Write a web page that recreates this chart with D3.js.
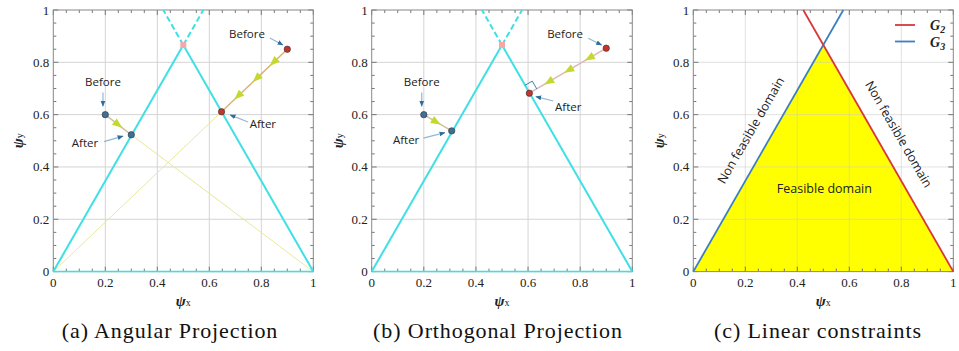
<!DOCTYPE html>
<html>
<head>
<meta charset="utf-8">
<script src="https://d3js.org/d3.v7.min.js"></script>
<style>
body { margin:0; background:#fff; }
svg text { font-family:"Liberation Serif", serif; }
</style>
</head>
<body>
<svg width="959" height="351"></svg>
<script>
// axis ticks
var ticks = [0, 0.2, 0.4, 0.6, 0.8, 1]
var tickLabels = ["0", "0.2", "0.4", "0.6", "0.8", "1"]
var minorTicks = d3.range(0, 21).map(function(i) { return i / 20 })

// constraint lines
var g3Solid = [[0, 0], [0.5, 0.866]]
var g3Dashed = [[0.5, 0.866], [0.577, 1]]
var g2Solid = [[1, 0], [0.5, 0.866]]
var g2Dashed = [[0.5, 0.866], [0.423, 1]]
var vertex = [0.5, 0.866]

// (a) angular projection
var angBluePath = [[0.2, 0.6], [0.3, 0.523]]
var angBlueRay = [[0.3, 0.523], [1, 0]]
var angRedPath = [[0.9, 0.85], [0.647, 0.611]]
var angRedRay = [[0.647, 0.611], [0, 0]]
var angBlueArrows = [0.5]
var angRedArrows = [0.21, 0.47, 0.75]
var angNotes = [
	{text: "Before", at: [0.191, 0.725], from: [0.191, 0.685], to: [0.191, 0.632]},
	{text: "After", at: [0.122, 0.492], from: [0.195, 0.497], to: [0.268, 0.518]},
	{text: "Before", at: [0.745, 0.908], from: [0.833, 0.893], to: [0.883, 0.866]},
	{text: "After", at: [0.806, 0.564], from: [0.749, 0.572], to: [0.68, 0.599]}
]

// (b) orthogonal projection
var ortBluePath = [[0.2, 0.6], [0.307, 0.538]]
var ortRedPath = [[0.9, 0.854], [0.605, 0.682]]
var ortBlueArrows = [0.45]
var ortRedArrows = [0.22, 0.49, 0.75]
var ortNotes = [
	{text: "Before", at: [0.192, 0.726], from: [0.192, 0.685], to: [0.192, 0.632]},
	{text: "After", at: [0.132, 0.503], from: [0.198, 0.51], to: [0.281, 0.531]},
	{text: "Before", at: [0.742, 0.907], from: [0.831, 0.892], to: [0.882, 0.866]},
	{text: "After", at: [0.754, 0.631], from: [0.697, 0.652], to: [0.63, 0.669]}
]

// (c) linear constraints
var feasible = [[0, 0], [0.5, 0.866], [1, 0]]
var g3Line = [[0, 0], [0.577, 1]]
var g2Line = [[0.423, 1], [1, 0]]
var legendNames = ["2", "3"]
var legendColors = ["#d9383a", "#3a7fc1"]
var regionLabels = [
	{text: "Non feasible domain", at: [0.221, 0.54], angle: -60},
	{text: "Non feasible domain", at: [0.79, 0.525], angle: 60},
	{text: "Feasible domain", at: [0.504, 0.318], angle: 0}
]

var captions = ["(a) Angular Projection", "(b) Orthogonal Projection", "(c) Linear constraints"]

var cyan = "#3fe0e4"
var svg = d3.select("svg")

var defs = svg.append("defs")
defs.append("marker")
	.attr("id", "noteArrow")
	.attr("viewBox", "0 0 10 10")
	.attr("refX", 9).attr("refY", 5)
	.attr("markerWidth", 5).attr("markerHeight", 5)
	.attr("orient", "auto")
	.append("path")
	.attr("d", "M0,1L10,5L0,9Z")
	.style("fill", "#2f6d9e")

var panels = [
	{left: 53.3, right: 313.3, ylab: 19, cap: 170},
	{left: 371.7, right: 632.3, ylab: 339, cap: 498},
	{left: 693.3, right: 953.3, ylab: 660, cap: 818}
]
var plotTop = 10, plotBottom = 271.6

function makePanel(p, i) {
	var g = svg.append("g")
	var x = d3.scaleLinear().domain([0, 1]).range([p.left, p.right])
	var y = d3.scaleLinear().domain([0, 1]).range([plotBottom, plotTop])
	var line = d3.line().x(function(d) { return x(d[0]) }).y(function(d) { return y(d[1]) })
	return {g: g, x: x, y: y, line: line}
}

function drawFrame(P, gridColor) {
	var g = P.g, x = P.x, y = P.y
	g.selectAll(".gx").data(ticks.slice(1, -1)).enter().append("line")
		.attr("x1", x).attr("x2", x).attr("y1", plotTop).attr("y2", plotBottom)
		.style("stroke", gridColor).style("stroke-width", 1)
	g.selectAll(".gy").data(ticks.slice(1, -1)).enter().append("line")
		.attr("y1", y).attr("y2", y).attr("x1", x(0)).attr("x2", x(1))
		.style("stroke", gridColor).style("stroke-width", 1)
	// inward ticks on all four sides
	minorTicks.forEach(function(t, k) {
		var len = (k % 4 == 0) ? 5 : 3
		g.append("line").attr("x1", x(t)).attr("x2", x(t)).attr("y1", plotBottom).attr("y2", plotBottom - len).style("stroke", "#777")
		g.append("line").attr("x1", x(t)).attr("x2", x(t)).attr("y1", plotTop).attr("y2", plotTop + len).style("stroke", "#777")
		g.append("line").attr("y1", y(t)).attr("y2", y(t)).attr("x1", x(0)).attr("x2", x(0) + len).style("stroke", "#777")
		g.append("line").attr("y1", y(t)).attr("y2", y(t)).attr("x1", x(1)).attr("x2", x(1) - len).style("stroke", "#777")
	})
	g.append("rect").attr("x", x(0)).attr("y", plotTop).attr("width", x(1) - x(0)).attr("height", plotBottom - plotTop)
		.style("fill", "none").style("stroke", "#888").style("stroke-width", 1)
}

function drawLabels(P, p, i) {
	var g = P.g, x = P.x, y = P.y
	g.selectAll(".tx").data(ticks).enter().append("text")
		.attr("x", x).attr("y", 287)
		.attr("text-anchor", "middle").style("font-size", "13px").style("fill", "#222")
		.text(function(d, k) { return tickLabels[k] })
	g.selectAll(".ty").data(ticks).enter().append("text")
		.attr("x", x(0) - 4).attr("y", function(d) { return y(d) + 4.5 })
		.attr("text-anchor", "end").style("font-size", "13px").style("fill", "#222")
		.text(function(d, k) { return tickLabels[k] })
	var xl = g.append("text").attr("x", (x(0) + x(1)) / 2).attr("y", 306).attr("text-anchor", "middle").style("fill", "#222")
	xl.append("tspan").style("font-size", "15px").style("font-weight", "bold").style("font-style", "italic").text("ψ")
	xl.append("tspan").style("font-size", "10px").text("x")
	var yl = g.append("text").attr("transform", "translate(" + (p.ylab + 4) + "," + ((plotTop + plotBottom) / 2) + ") rotate(-90)")
		.attr("text-anchor", "middle").style("fill", "#222")
	yl.append("tspan").style("font-size", "15px").style("font-weight", "bold").style("font-style", "italic").text("ψ")
	yl.append("tspan").style("font-size", "10px").text("y")
	svg.append("text").attr("x", p.cap).attr("y", 338).attr("text-anchor", "middle")
		.style("font-size", "22px").style("letter-spacing", "0.9px").style("fill", "#111").text(captions[i])
}

function drawConstraints(P) {
	var g = P.g
	;[g3Solid, g2Solid].forEach(function(d) {
		g.append("path").attr("d", P.line(d)).style("stroke", cyan).style("stroke-width", 2).style("fill", "none")
	})
	;[g3Dashed, g2Dashed].forEach(function(d) {
		g.append("path").attr("d", P.line(d)).style("stroke", cyan).style("stroke-width", 2)
			.style("stroke-dasharray", "6,3").style("fill", "none")
	})
	g.append("rect").attr("x", P.x(vertex[0]) - 3).attr("y", P.y(vertex[1]) - 3)
		.attr("width", 6).attr("height", 6).style("fill", "#f5a8aa")
	// bottom edge in cyan
	g.append("line").attr("x1", P.x(0)).attr("x2", P.x(1)).attr("y1", plotBottom).attr("y2", plotBottom)
		.style("stroke", cyan).style("stroke-width", 1.5)
}

function drawMove(P, path, color, arrows, dotColor) {
	var g = P.g
	g.append("path").attr("d", P.line(path)).style("stroke", color).style("stroke-width", 1.5).style("fill", "none")
	var x0 = P.x(path[0][0]), y0 = P.y(path[0][1]), x1 = P.x(path[1][0]), y1 = P.y(path[1][1])
	var ang = Math.atan2(y1 - y0, x1 - x0) * 180 / Math.PI
	arrows.forEach(function(t) {
		g.append("path").attr("d", "M5,0L-5,-4L-5,4Z")
			.attr("transform", "translate(" + (x0 + t * (x1 - x0)) + "," + (y0 + t * (y1 - y0)) + ") rotate(" + ang + ")")
			.style("fill", "#c4d831")
	})
	path.forEach(function(d) {
		g.append("circle").attr("cx", P.x(d[0])).attr("cy", P.y(d[1])).attr("r", 3.2)
			.style("fill", dotColor).style("stroke", "#333").style("stroke-width", 0.6)
	})
}

function drawNotes(P, notes) {
	notes.forEach(function(n) {
		P.g.append("line").attr("x1", P.x(n.from[0])).attr("y1", P.y(n.from[1]))
			.attr("x2", P.x(n.to[0])).attr("y2", P.y(n.to[1]))
			.style("stroke", "#8fb8d4").style("stroke-width", 1.2).attr("marker-end", "url(#noteArrow)")
		P.g.append("text").attr("x", P.x(n.at[0])).attr("y", P.y(n.at[1]) + 4)
			.attr("text-anchor", "middle").style("font-family", "'Open Sans', sans-serif")
			.style("font-size", "11.5px").style("fill", "#222").text(n.text)
	})
}

// (a)
var A = makePanel(panels[0], 0)
drawFrame(A, "#d4d4d4")
A.g.append("path").attr("d", A.line(angBlueRay)).style("stroke", "#e8e89c").style("stroke-width", 1).style("fill", "none")
A.g.append("path").attr("d", A.line(angRedRay)).style("stroke", "#e8e89c").style("stroke-width", 1).style("fill", "none")
drawConstraints(A)
drawMove(A, angBluePath, "#cdc29a", angBlueArrows, "#3f6f96")
drawMove(A, angRedPath, "#d9b27c", angRedArrows, "#c8322c")
drawNotes(A, angNotes)
drawLabels(A, panels[0], 0)

// (b)
var B = makePanel(panels[1], 1)
drawFrame(B, "#d4d4d4")
drawConstraints(B)
drawMove(B, ortBluePath, "#cdc29a", ortBlueArrows, "#3f6f96")
drawMove(B, ortRedPath, "#ddb8b4", ortRedArrows, "#c8322c")
// right angle mark at the orthogonal foot
var fx = B.x(ortRedPath[1][0]), fy = B.y(ortRedPath[1][1])
var ux = Math.cos(-60 * Math.PI / 180), uy = -Math.sin(-60 * Math.PI / 180)
var s = 9
B.g.append("path")
	.attr("d", "M" + (fx - ux * s) + "," + (fy - uy * s) +
		"L" + (fx - ux * s + uy * s * 0.95) + "," + (fy - uy * s - ux * s * 0.95) +
		"L" + (fx + uy * s * 0.95) + "," + (fy - ux * s * 0.95))
	.style("fill", "none").style("stroke", "#4a7fa8").style("stroke-width", 1)
drawNotes(B, ortNotes)
drawLabels(B, panels[1], 1)

// (c)
var C = makePanel(panels[2], 2)
C.g.append("path").attr("d", C.line(feasible) + "Z").style("fill", "#ffff00")
drawFrame(C, "rgba(200,200,200,0.55)")
C.g.append("path").attr("d", C.line(g3Line)).style("stroke", legendColors[1]).style("stroke-width", 1.8).style("fill", "none")
C.g.append("path").attr("d", C.line(g2Line)).style("stroke", legendColors[0]).style("stroke-width", 1.8).style("fill", "none")
regionLabels.forEach(function(r) {
	C.g.append("text")
		.attr("transform", "translate(" + C.x(r.at[0]) + "," + C.y(r.at[1]) + ") rotate(" + r.angle + ")")
		.attr("text-anchor", "middle").attr("dy", "0.35em")
		.style("font-family", "'Open Sans', sans-serif").style("font-size", "12.5px").style("fill", "#222")
		.text(r.text)
})
legendNames.forEach(function(nm, k) {
	var ly = 25 + k * 16.5
	C.g.append("line").attr("x1", 895).attr("x2", 915).attr("y1", ly).attr("y2", ly)
		.style("stroke", legendColors[k]).style("stroke-width", 1.8)
	var t = C.g.append("text").attr("x", 930).attr("y", ly + 5).style("fill", "#222")
	t.append("tspan").style("font-size", "14px").style("font-weight", "bold").style("font-style", "italic").text("G")
	t.append("tspan").attr("dy", 3).style("font-size", "10px").style("font-weight", "bold").style("font-style", "italic").text(nm)
})
drawLabels(C, panels[2], 2)
</script>
</body>
</html>
